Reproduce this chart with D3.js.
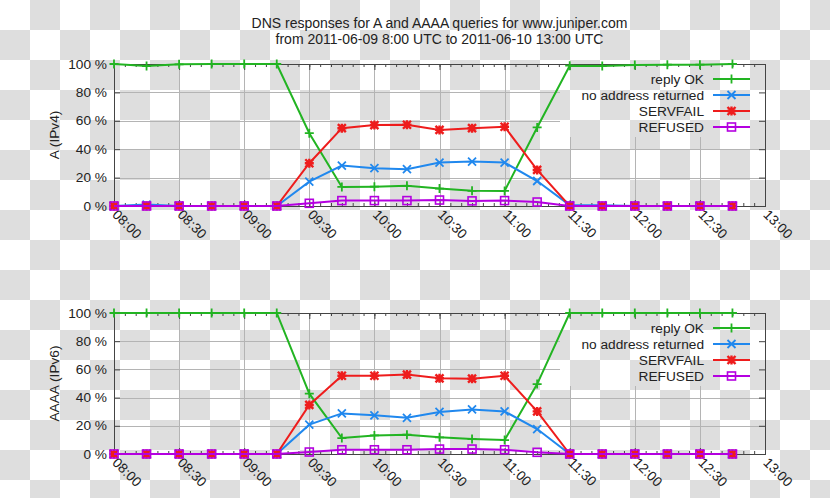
<!DOCTYPE html>
<html>
<head>
<meta charset="utf-8">
<script src="https://cdn.jsdelivr.net/npm/d3@7"></script>
<style>
  body { margin: 0; background: #fff; }
  svg text { font-family: "Liberation Sans", Arial, sans-serif; fill: #222; }
</style>
</head>
<body>
<script>
// sample times, one every 15 minutes
var times = ["08:00","08:15","08:30","08:45","09:00","09:15","09:30","09:45","10:00","10:15",
             "10:30","10:45","11:00","11:15","11:30","11:45","12:00","12:15","12:30","12:45"];
var xTickLabels = ["08:00","08:30","09:00","09:30","10:00","10:30","11:00","11:30","12:00","12:30","13:00"];
var yTickValues = [0, 20, 40, 60, 80, 100];
var seriesNames = ["reply OK", "no address returned", "SERVFAIL", "REFUSED"];

// A (IPv4), percent
var ipv4ReplyOK   = [100, 98.6, 99.8, 100, 100, 100, 51.3, 13.4, 13.6, 14.2, 12.3, 10.7, 10.6, 55.3, 98.8, 98.6, 99.3, 99.5, 99.5, 100];
var ipv4NoAddr    = [0, 1, 0, 0, 0, 0, 17.2, 28.5, 26.6, 25.9, 30.6, 31.3, 30.6, 17.6, 0.6, 0.5, 0, 0, 0, 0];
var ipv4Servfail  = [0, 0, 0, 0, 0, 0, 30.1, 54.8, 57, 57.2, 53.6, 54.8, 55.8, 25.4, 0, 0, 0, 0, 0, 0];
var ipv4Refused   = [0, 0, 0, 0, 0, 0, 1.9, 3.8, 3.8, 3.8, 4.2, 3.6, 3.8, 2.8, 0, 0, 0, 0, 0, 0];

// AAAA (IPv6), percent
var ipv6ReplyOK   = [100, 100, 100, 100, 100, 100, 42.8, 11.3, 13.2, 13.7, 11.8, 10.6, 9.9, 49.6, 100, 100, 100, 100, 100, 100];
var ipv6NoAddr    = [0, 0, 0, 0, 0, 0, 20.8, 28.8, 27.4, 25.7, 29.8, 31.6, 30.2, 17.7, 0, 0, 0, 0, 0, 0];
var ipv6Servfail  = [0, 0, 0, 0, 0, 0, 34.8, 55.5, 55.5, 56.3, 53.7, 53.4, 55.5, 30.2, 0, 0, 0, 0, 0, 0];
var ipv6Refused   = [0, 0, 0, 0, 0, 0, 1.4, 3, 3, 3, 3.5, 3.5, 3, 1.2, 0, 0, 0, 0, 0, 0];

var colors = ["#22b422", "#2088ee", "#ee1c1c", "#b400e0"];
var markers = ["plus", "cross", "star", "square"];

var width = 830, height = 498;
var parseTime = d3.timeParse("%H:%M");

var svg = d3.select("body").append("svg")
    .attr("width", width)
    .attr("height", height);

// checkerboard background
var defs = svg.append("defs");
var pat = defs.append("pattern")
    .attr("id", "chk")
    .attr("patternUnits", "userSpaceOnUse")
    .attr("width", 60).attr("height", 60);
pat.append("rect").attr("width", 60).attr("height", 60).attr("fill", "#fff");
pat.append("rect").attr("x", 30).attr("y", 0).attr("width", 30).attr("height", 30).attr("fill", "#dedede");
pat.append("rect").attr("x", 0).attr("y", 30).attr("width", 30).attr("height", 30).attr("fill", "#dedede");
svg.append("rect").attr("width", width).attr("height", height).attr("fill", "url(#chk)");

// title
svg.append("text")
    .attr("x", 439.5).attr("y", 28)
    .attr("text-anchor", "middle")
    .style("font-size", "14px")
    .text("DNS responses for A and AAAA queries for www.juniper.com");
svg.append("text")
    .attr("x", 439.5).attr("y", 44)
    .attr("text-anchor", "middle")
    .style("font-size", "14px")
    .text("from 2011-06-09 8:00 UTC to 2011-06-10 13:00 UTC");

var x = d3.scaleTime()
    .domain([parseTime("08:00"), parseTime("13:00")])
    .range([114, 765]);

function marker(g, type, color) {
    if (type == "square") {
        g.append("rect").attr("x", -4).attr("y", -4).attr("width", 8).attr("height", 8)
            .attr("fill", "none").attr("stroke", color).attr("stroke-width", 1.6);
        return;
    }
    var d = "";
    if (type == "plus" || type == "star") d += "M-4.5,0H4.5M0,-4.5V4.5";
    if (type == "cross" || type == "star") d += "M-4,-4L4,4M-4,4L4,-4";
    g.append("path").attr("d", d).attr("fill", "none")
        .attr("stroke", color).attr("stroke-width", type == "star" ? 2.4 : 1.8);
}

function panel(top, bottom, label, series) {
    var y = d3.scaleLinear().domain([0, 100]).range([bottom, top]);
    var g = svg.append("g");
    var left = x.range()[0], right = x.range()[1];
    var keyX = 560, keyBottom = top + 73;

    // grid (hidden behind the key area)
    var grid = g.append("g").attr("stroke", "#b4b4b4").attr("stroke-width", 1);
    xTickLabels.slice(1, -1).forEach(function (t) {
        var xx = Math.round(x(parseTime(t))) + 0.5;
        grid.append("line").attr("x1", xx).attr("x2", xx)
            .attr("y1", bottom).attr("y2", xx > keyX ? keyBottom : top);
    });
    yTickValues.slice(1, -1).forEach(function (v) {
        var yy = Math.round(y(v)) + 0.5;
        grid.append("line").attr("x1", left).attr("y1", yy)
            .attr("x2", yy < keyBottom ? keyX : right).attr("y2", yy);
    });

    // ticks, gnuplot style: inward, mirrored
    var minor = d3.timeMinute.every(5).range(parseTime("08:00"), parseTime("13:01"));
    g.append("g").attr("transform", "translate(0," + bottom + ")")
        .call(d3.axisBottom(x).tickValues(minor).tickSize(-3).tickFormat(""));
    g.append("g").attr("transform", "translate(0," + top + ")")
        .call(d3.axisTop(x).tickValues(minor).tickSize(-3).tickFormat(""));
    var major = xTickLabels.map(parseTime);
    g.append("g").attr("transform", "translate(0," + bottom + ")")
        .call(d3.axisBottom(x).tickValues(major).tickSize(-6).tickFormat(""));
    g.append("g").attr("transform", "translate(0," + top + ")")
        .call(d3.axisTop(x).tickValues(major).tickSize(-6).tickFormat(""));
    g.append("g").attr("transform", "translate(" + left + ",0)")
        .call(d3.axisLeft(y).tickValues(yTickValues).tickSize(-6).tickFormat(""));
    g.append("g").attr("transform", "translate(" + right + ",0)")
        .call(d3.axisRight(y).tickValues(yTickValues).tickSize(-6).tickFormat(""));
    g.selectAll(".domain").remove();
    g.selectAll(".tick line").attr("stroke", "#444");

    g.append("rect").attr("x", left + 0.5).attr("y", top + 0.5)
        .attr("width", right - left).attr("height", bottom - top)
        .attr("fill", "none").attr("stroke", "#444").attr("stroke-width", 1);

    // y tick labels
    yTickValues.forEach(function (v) {
        g.append("text").attr("x", left - 7).attr("y", y(v) + 4.5)
            .attr("text-anchor", "end").style("font-size", "13.7px")
            .text(v + " %");
    });
    // x tick labels, rotated
    xTickLabels.forEach(function (t) {
        g.append("text")
            .attr("transform", "translate(" + (x(parseTime(t)) + 1) + "," + (bottom + 6) + ") rotate(45)")
            .attr("dy", "0.35em")
            .style("font-size", "13.7px")
            .text(t);
    });
    // y label
    g.append("text")
        .attr("transform", "translate(54," + ((top + bottom) / 2) + ") rotate(-90)")
        .attr("text-anchor", "middle").attr("dy", "0.35em")
        .style("font-size", "13.7px")
        .text(label);

    // data
    var line = d3.line()
        .x(function (d, i) { return x(parseTime(times[i])); })
        .y(function (d) { return y(d); });
    series.forEach(function (vals, k) {
        g.append("path").datum(vals)
            .attr("fill", "none").attr("stroke", colors[k]).attr("stroke-width", 2)
            .attr("d", line);
        vals.forEach(function (v, i) {
            var m = g.append("g").attr("transform",
                "translate(" + x(parseTime(times[i])) + "," + y(v) + ")");
            marker(m, markers[k], colors[k]);
        });
    });

    // key
    seriesNames.forEach(function (name, k) {
        var yy = top + 15 + k * 16;
        g.append("text").attr("x", 704).attr("y", yy + 4.5)
            .attr("text-anchor", "end").style("font-size", "13.7px").text(name);
        g.append("line").attr("x1", 713).attr("x2", 750).attr("y1", yy).attr("y2", yy)
            .attr("stroke", colors[k]).attr("stroke-width", 2);
        marker(g.append("g").attr("transform", "translate(731.5," + yy + ")"), markers[k], colors[k]);
    });
}

panel(64, 206, "A (IPv4)", [ipv4ReplyOK, ipv4NoAddr, ipv4Servfail, ipv4Refused]);
panel(313, 454, "AAAA (IPv6)", [ipv6ReplyOK, ipv6NoAddr, ipv6Servfail, ipv6Refused]);
</script>
</body>
</html>
